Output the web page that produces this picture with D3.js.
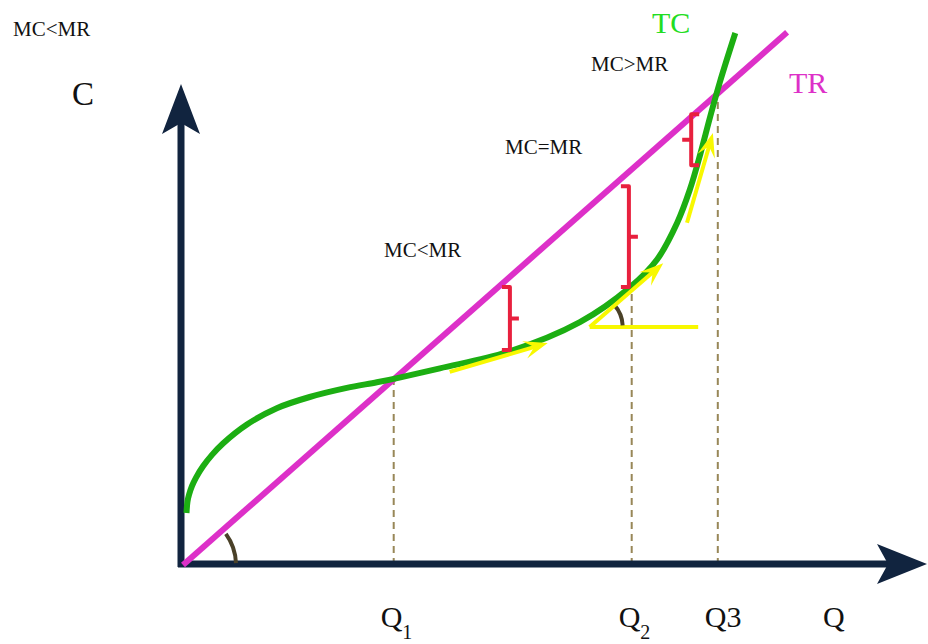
<!DOCTYPE html>
<html>
<head>
<meta charset="utf-8">
<script src="https://cdn.jsdelivr.net/npm/d3@7"></script>
<style>
  html, body { margin: 0; padding: 0; background: #ffffff; }
  svg { display: block; }
  text { font-family: "Liberation Serif", "Times New Roman", serif; }
</style>
</head>
<body>
<svg id="chart" width="928" height="644"></svg>
<script>
// ---------- data (Q units, C units) ----------
const trQ = [0, 86.3];
const trC = [0, 76.1];

const tcQ = [0.5, 0.64, 0.86, 1.29, 1.86, 2.86, 4.14, 5.71, 9.14, 13.4, 18.1, 23.4, 27.7, 30.6, 36.7, 46.3, 56.7, 63.9, 67.7, 70.6, 72.4, 73.9, 75.3, 76.7, 78.9];
const tcC = [7.43, 9.07, 10.03, 11.29, 12.49, 14.1, 15.73, 17.36, 20.07, 22.4, 24.0, 25.3, 26.1, 26.7, 28.1, 30.4, 34.7, 39.7, 43.6, 48.9, 53.6, 58.7, 64.0, 69.0, 76.0];

const qLevels = [30.1, 64.1, 76.4];
const qLevelC = [26.7, 39.7, 66.9];
const qLabels = [["Q", "1"], ["Q", "2"], ["Q3", ""]];

// profit gaps (brackets): Q, top C, bottom C, side
const gapQ = [46.7, 63.7, 72.6];
const gapTop = [39.7, 54.1, 64.4];
const gapBottom = [30.7, 39.7, 57.1];
const gapSide = [-1, -1, 1];

// tangent (slope) arrows: start and end
const tanQ0 = [38.1, 58.1, 72.0];
const tanC0 = [27.6, 34.0, 48.9];
const tanQ1 = [52.1, 68.6, 75.7];
const tanC1 = [31.7, 43.1, 61.7];
const horizQ = [58.1, 73.6];
const horizC = 34.0;

const regionLabels = ["MC<MR", "MC<MR", "MC=MR", "MC>MR"];

// ---------- scales ----------
const x = d3.scaleLinear().domain([0, 106]).range([183, 925]);
const y = d3.scaleLinear().domain([0, 76]).range([565, 33]);

const svg = d3.select("#chart");

const axisColor = "#11243f";
const trColor = "#dd30c8";
const tcColor = "#1cae12";
const yellow = "#f8f800";
const red = "#e8203e";
const dashColor = "#988758";
const arcColor = "#4a4128";

// ---------- dashed Q lines ----------
qLevels.forEach((q, i) => {
  svg.append("line")
    .attr("x1", x(q)).attr("x2", x(q))
    .attr("y1", y(0)).attr("y2", y(qLevelC[i]))
    .attr("stroke", dashColor).attr("stroke-width", 2)
    .attr("stroke-dasharray", "7,5");
});

// ---------- axes ----------
const ox = x(0) - 2, oy = y(0) - 1;
svg.append("line").attr("x1", ox).attr("x2", ox).attr("y1", oy + 3).attr("y2", 120)
  .attr("stroke", axisColor).attr("stroke-width", 7);
svg.append("line").attr("x1", ox - 3).attr("x2", 890).attr("y1", oy).attr("y2", oy)
  .attr("stroke", axisColor).attr("stroke-width", 7);
// arrow heads
svg.append("path")
  .attr("d", `M${ox},84 L${ox + 19},134 L${ox},123 L${ox - 19},134 Z`)
  .attr("fill", axisColor);
svg.append("path")
  .attr("d", `M927,${oy} L877,${oy - 20} L888,${oy} L877,${oy + 20} Z`)
  .attr("fill", axisColor);

// ---------- angle arcs ----------
function arcPath(cx, cy, r, a0, a1) {
  const p0 = [cx + r * Math.cos(a0 * Math.PI / 180), cy - r * Math.sin(a0 * Math.PI / 180)];
  const p1 = [cx + r * Math.cos(a1 * Math.PI / 180), cy - r * Math.sin(a1 * Math.PI / 180)];
  return `M${p0[0]},${p0[1]} A${r},${r} 0 0 1 ${p1[0]},${p1[1]}`;
}
svg.append("path").attr("d", arcPath(x(0), y(0), 53, 36, 2))
  .attr("fill", "none").attr("stroke", arcColor).attr("stroke-width", 4);

// ---------- TR ----------
svg.append("line")
  .attr("x1", x(trQ[0])).attr("y1", y(trC[0]))
  .attr("x2", x(trQ[1])).attr("y2", y(trC[1]))
  .attr("stroke", trColor).attr("stroke-width", 6);

// ---------- yellow horizontal + second arc ----------
svg.append("line")
  .attr("x1", x(horizQ[0])).attr("x2", x(horizQ[1]))
  .attr("y1", y(horizC)).attr("y2", y(horizC))
  .attr("stroke", yellow).attr("stroke-width", 4);
svg.append("path").attr("d", arcPath(x(horizQ[0]), y(horizC), 33, 42, 3))
  .attr("fill", "none").attr("stroke", arcColor).attr("stroke-width", 4);

// ---------- TC ----------
const tcPts = tcQ.map((q, i) => [x(q), y(tcC[i])]);
svg.append("path")
  .attr("d", d3.line().curve(d3.curveCatmullRom.alpha(0.5))(tcPts))
  .attr("fill", "none").attr("stroke", tcColor).attr("stroke-width", 6);

// ---------- tangent arrows ----------
tanQ0.forEach((q, i) => {
  const x0 = x(q), y0 = y(tanC0[i]), x1 = x(tanQ1[i]), y1 = y(tanC1[i]);
  const ang = Math.atan2(y1 - y0, x1 - x0);
  const L = 24, W = 9;
  const bx = x1 - L * Math.cos(ang), by = y1 - L * Math.sin(ang);
  const nx = -Math.sin(ang), ny = Math.cos(ang);
  svg.append("line")
    .attr("x1", x0).attr("y1", y0)
    .attr("x2", x1 - 10 * Math.cos(ang)).attr("y2", y1 - 10 * Math.sin(ang))
    .attr("stroke", yellow).attr("stroke-width", 4);
  const nxb = x1 - 14 * Math.cos(ang), nyb = y1 - 14 * Math.sin(ang);
  svg.append("path")
    .attr("d", `M${x1},${y1} L${bx + nx * W},${by + ny * W} L${nxb},${nyb} L${bx - nx * W},${by - ny * W} Z`)
    .attr("fill", yellow);
});

// ---------- brackets ----------
gapQ.forEach((q, i) => {
  const bx = x(q), t = y(gapTop[i]), b = y(gapBottom[i]), s = gapSide[i];
  const m = (t + b) / 2;
  const p = `M${bx + s * 8},${t} L${bx},${t} L${bx},${b} L${bx + s * 8},${b} M${bx},${m} L${bx - s * 9},${m}`;
  svg.append("path").attr("d", p)
    .attr("fill", "none").attr("stroke", red).attr("stroke-width", 4)
    .attr("stroke-linejoin", "round");
});

// ---------- labels ----------
const regionPos = [[13, 36], [384, 257], [505, 154], [591, 71]];
regionLabels.forEach((t, i) => {
  svg.append("text").attr("x", regionPos[i][0]).attr("y", regionPos[i][1])
    .attr("font-size", 21).attr("fill", "#111").text(t);
});
svg.append("text").attr("x", 72).attr("y", 105).attr("font-size", 33).attr("fill", "#111").text("C");
svg.append("text").attr("x", 652).attr("y", 33).attr("font-size", 30).attr("fill", "#22dd22").text("TC");
svg.append("text").attr("x", 789).attr("y", 93).attr("font-size", 30).attr("fill", trColor).text("TR");

qLevels.forEach((q, i) => {
  const t = svg.append("text").attr("x", x(q) - 13).attr("y", 627)
    .attr("font-size", 30).attr("fill", "#111");
  t.append("tspan").text(qLabels[i][0]);
  if (qLabels[i][1]) {
    t.append("tspan").attr("dy", 12).attr("font-size", 20).text(qLabels[i][1]);
  }
});
svg.append("text").attr("x", 823).attr("y", 627).attr("font-size", 30).attr("fill", "#111").text("Q");
</script>
</body>
</html>
